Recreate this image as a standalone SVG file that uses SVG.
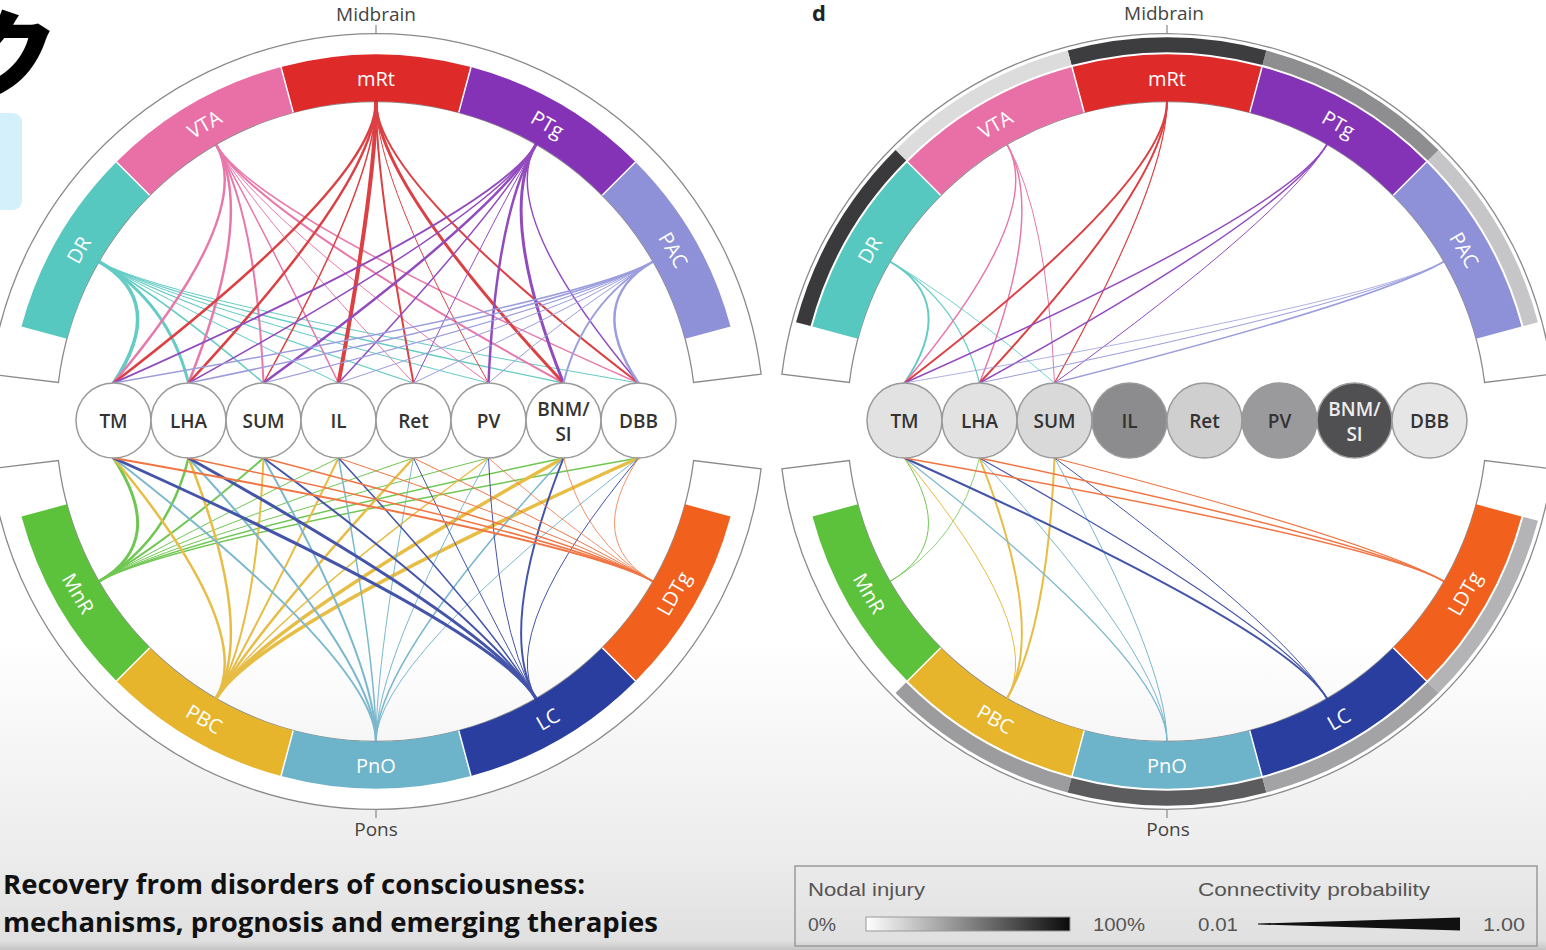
<svg xmlns="http://www.w3.org/2000/svg" width="1546" height="950" viewBox="0 0 1546 950">
<defs>
<linearGradient id="bg" gradientUnits="userSpaceOnUse" x1="0" y1="640" x2="0" y2="950">
<stop offset="0" stop-color="#ffffff"/><stop offset="0.7" stop-color="#ececec"/><stop offset="0.97" stop-color="#e0e0e0"/><stop offset="1" stop-color="#c4c4c4"/>
</linearGradient>
<linearGradient id="inj" x1="0" y1="0" x2="1" y2="0">
<stop offset="0" stop-color="#ffffff"/><stop offset="1" stop-color="#0a0a0a"/>
</linearGradient>
<style>
.frame{fill:#fff;stroke:#8a8a8a;stroke-width:1.3}
.band{fill:none;stroke-width:47}
.ring{fill:none;stroke-width:15}
.sep{stroke:#fff;stroke-width:1.5}
.blabel{font-family:"Open Sans","Liberation Sans",sans-serif;font-size:20px;fill:#fff;text-anchor:middle;dominant-baseline:central}
.nc{stroke:#9a9a9a;stroke-width:1.5}
.nt{font-family:"Open Sans","Liberation Sans",sans-serif;font-size:19px;font-weight:600;fill:#333;text-anchor:middle;dominant-baseline:central}
.reg{font-family:"Open Sans","Liberation Sans",sans-serif;font-size:19px;fill:#444;text-anchor:middle;dominant-baseline:central}
.tick{stroke:#888;stroke-width:1.2}
.ch path{fill:none;stroke-linecap:round}
.dr{stroke:#4fc5be}.vta{stroke:#e5669f}.mrt{stroke:#d8262a}.ptg{stroke:#8433b6}.pac{stroke:#8e90d8}
.mnr{stroke:#5cc03a}.pbc{stroke:#e4b42b}.pno{stroke:#6aafc7}.lc{stroke:#2b3d9e}.ldt{stroke:#f0622a}
.leg{font-family:"Liberation Sans",sans-serif;font-size:19px;fill:#555}
.title{font-family:"Open Sans","Liberation Sans",sans-serif;font-weight:bold;font-size:26px;fill:#111}
</style>
</defs>
<rect x="0" y="0" width="1546" height="950" fill="url(#bg)"/>

<!-- overlay fragments top-left -->
<rect x="-20" y="113" width="42" height="97" rx="9" fill="#d3f0fb"/>
<text x="-38" y="90" font-family="Noto Sans CJK JP, sans-serif" font-weight="900" font-size="96" fill="#000" stroke="#fff" stroke-width="7" paint-order="stroke">ク</text>

<!-- LEFT DIAGRAM -->
<g id="left-diagram">
<line class="tick" x1="376" y1="25" x2="376" y2="34"/>
<line class="tick" x1="376" y1="809" x2="376" y2="818"/>
<text class="reg" x="376" y="14">Midbrain</text>
<text class="reg" x="376" y="829">Pons</text>
<path class="frame" d="M761.1,374.2A388,388 0 0 0 -9.1,374.2L58.4,382.5A320,320 0 0 1 693.6,382.5Z"/>
<path class="frame" d="M761.1,468.8A388,388 0 0 1 -9.1,468.8L58.4,460.5A320,320 0 0 0 693.6,460.5Z"/>
<g id="L-bands">
<path class="band" stroke="#8e90d8" d="M707.8,332.6A343.5,343.5 0 0 0 618.9,178.6"/>
<path class="band" stroke="#8433b6" d="M618.9,178.6A343.5,343.5 0 0 0 464.9,89.7"/>
<path class="band" stroke="#df2a2a" d="M464.9,89.7A343.5,343.5 0 0 0 287.1,89.7"/>
<path class="band" stroke="#e970a6" d="M287.1,89.7A343.5,343.5 0 0 0 133.1,178.6"/>
<path class="band" stroke="#56c8c0" d="M133.1,178.6A343.5,343.5 0 0 0 44.2,332.6"/>
<path class="band" stroke="#5cc23c" d="M44.2,510.4A343.5,343.5 0 0 0 133.1,664.4"/>
<path class="band" stroke="#e6b52c" d="M133.1,664.4A343.5,343.5 0 0 0 287.1,753.3"/>
<path class="band" stroke="#6db3c9" d="M287.1,753.3A343.5,343.5 0 0 0 464.9,753.3"/>
<path class="band" stroke="#2a3e9f" d="M464.9,753.3A343.5,343.5 0 0 0 618.9,664.4"/>
<path class="band" stroke="#f2601e" d="M618.9,664.4A343.5,343.5 0 0 0 707.8,510.4"/>
<line class="sep" x1="602.3" y1="195.2" x2="635.5" y2="162"/>
<line class="sep" x1="458.8" y1="112.4" x2="471" y2="67"/>
<line class="sep" x1="293.2" y1="112.4" x2="281" y2="67"/>
<line class="sep" x1="149.7" y1="195.2" x2="116.5" y2="162"/>
<line class="sep" x1="149.7" y1="647.8" x2="116.5" y2="681"/>
<line class="sep" x1="293.2" y1="730.6" x2="281" y2="776"/>
<line class="sep" x1="458.8" y1="730.6" x2="471" y2="776"/>
<line class="sep" x1="602.3" y1="647.8" x2="635.5" y2="681"/>
<text class="blabel" transform="rotate(-60 78.5 249.8)" x="78.5" y="249.8">DR</text>
<text class="blabel" transform="rotate(-30 204.3 124)" x="204.3" y="124">VTA</text>
<text class="blabel" x="376" y="78">mRt</text>
<text class="blabel" transform="rotate(30 547.7 124)" x="547.7" y="124">PTg</text>
<text class="blabel" transform="rotate(60 673.5 249.8)" x="673.5" y="249.8">PAC</text>
<text class="blabel" transform="rotate(60 78.5 593.3)" x="78.5" y="593.3">MnR</text>
<text class="blabel" transform="rotate(30 204.3 719)" x="204.3" y="719">PBC</text>
<text class="blabel" x="376" y="765">PnO</text>
<text class="blabel" transform="rotate(-30 547.7 719)" x="547.7" y="719">LC</text>
<text class="blabel" transform="rotate(-60 673.5 593.3)" x="673.5" y="593.3">LDTg</text>
</g>
<g id="L-connectors" class="ch" opacity="0.88">
<g class="dr">
<path stroke-width="3.5" d="M98.9,261.5Q168.2,301.5 113.5,383"/>
<path stroke-width="3" d="M98.9,261.5Q168.2,301.5 188.5,383"/>
<path stroke-width="1.5" d="M98.9,261.5Q168.2,301.5 263.5,383"/>
<path stroke-width="1" d="M98.9,261.5Q168.2,301.5 338.5,383"/>
<path stroke-width="1.3" d="M98.9,261.5Q168.2,301.5 413.5,383"/>
<path stroke-width="1" d="M98.9,261.5Q168.2,301.5 488.5,383"/>
<path stroke-width="1.3" d="M98.9,261.5Q168.2,301.5 563.5,383"/>
<path stroke-width="1" d="M98.9,261.5Q168.2,301.5 638.5,383"/>
</g>
<g class="vta">
<path stroke-width="2.5" d="M216,144.4Q256,213.7 113.5,383"/>
<path stroke-width="2.5" d="M216,144.4Q256,213.7 188.5,383"/>
<path stroke-width="2" d="M216,144.4Q256,213.7 263.5,383"/>
<path stroke-width="1.5" d="M216,144.4Q256,213.7 338.5,383"/>
<path stroke-width="1" d="M216,144.4Q256,213.7 413.5,383"/>
<path stroke-width="1" d="M216,144.4Q256,213.7 488.5,383"/>
<path stroke-width="2" d="M216,144.4Q256,213.7 563.5,383"/>
<path stroke-width="1.5" d="M216,144.4Q256,213.7 638.5,383"/>
</g>
<g class="mrt">
<path stroke-width="2.5" d="M376,101.5Q376,181.5 113.5,383"/>
<path stroke-width="2.5" d="M376,101.5Q376,181.5 188.5,383"/>
<path stroke-width="1.5" d="M376,101.5Q376,181.5 263.5,383"/>
<path stroke-width="4" d="M376,101.5Q376,181.5 338.5,383"/>
<path stroke-width="2" d="M376,101.5Q376,181.5 413.5,383"/>
<path stroke-width="1" d="M376,101.5Q376,181.5 488.5,383"/>
<path stroke-width="3" d="M376,101.5Q376,181.5 563.5,383"/>
<path stroke-width="2" d="M376,101.5Q376,181.5 638.5,383"/>
</g>
<g class="ptg">
<path stroke-width="2" d="M536,144.4Q496,213.7 113.5,383"/>
<path stroke-width="1.5" d="M536,144.4Q496,213.7 188.5,383"/>
<path stroke-width="2.5" d="M536,144.4Q496,213.7 263.5,383"/>
<path stroke-width="1.5" d="M536,144.4Q496,213.7 338.5,383"/>
<path stroke-width="1" d="M536,144.4Q496,213.7 413.5,383"/>
<path stroke-width="2.5" d="M536,144.4Q496,213.7 488.5,383"/>
<path stroke-width="3" d="M536,144.4Q496,213.7 563.5,383"/>
<path stroke-width="1.5" d="M536,144.4Q496,213.7 638.5,383"/>
</g>
<g class="pac">
<path stroke-width="1.5" d="M653.1,261.5Q583.8,301.5 113.5,383"/>
<path stroke-width="1.5" d="M653.1,261.5Q583.8,301.5 188.5,383"/>
<path stroke-width="1.2" d="M653.1,261.5Q583.8,301.5 263.5,383"/>
<path stroke-width="1" d="M653.1,261.5Q583.8,301.5 338.5,383"/>
<path stroke-width="1" d="M653.1,261.5Q583.8,301.5 413.5,383"/>
<path stroke-width="1" d="M653.1,261.5Q583.8,301.5 488.5,383"/>
<path stroke-width="2" d="M653.1,261.5Q583.8,301.5 563.5,383"/>
<path stroke-width="2.5" d="M653.1,261.5Q583.8,301.5 638.5,383"/>
</g>
<g class="mnr">
<path stroke-width="3" d="M98.9,581.5Q168.2,541.5 113.5,458"/>
<path stroke-width="2.5" d="M98.9,581.5Q168.2,541.5 188.5,458"/>
<path stroke-width="2" d="M98.9,581.5Q168.2,541.5 263.5,458"/>
<path stroke-width="1" d="M98.9,581.5Q168.2,541.5 338.5,458"/>
<path stroke-width="1" d="M98.9,581.5Q168.2,541.5 413.5,458"/>
<path stroke-width="1" d="M98.9,581.5Q168.2,541.5 488.5,458"/>
<path stroke-width="1.5" d="M98.9,581.5Q168.2,541.5 563.5,458"/>
<path stroke-width="1.5" d="M98.9,581.5Q168.2,541.5 638.5,458"/>
</g>
<g class="pbc">
<path stroke-width="2.5" d="M216,698.6Q256,629.3 113.5,458"/>
<path stroke-width="2.5" d="M216,698.6Q256,629.3 188.5,458"/>
<path stroke-width="2" d="M216,698.6Q256,629.3 263.5,458"/>
<path stroke-width="2" d="M216,698.6Q256,629.3 338.5,458"/>
<path stroke-width="2.5" d="M216,698.6Q256,629.3 413.5,458"/>
<path stroke-width="1.5" d="M216,698.6Q256,629.3 488.5,458"/>
<path stroke-width="3.5" d="M216,698.6Q256,629.3 563.5,458"/>
<path stroke-width="3.5" d="M216,698.6Q256,629.3 638.5,458"/>
</g>
<g class="pno">
<path stroke-width="2" d="M376,741.5Q376,661.5 113.5,458"/>
<path stroke-width="2" d="M376,741.5Q376,661.5 188.5,458"/>
<path stroke-width="2" d="M376,741.5Q376,661.5 263.5,458"/>
<path stroke-width="1.5" d="M376,741.5Q376,661.5 338.5,458"/>
<path stroke-width="1" d="M376,741.5Q376,661.5 413.5,458"/>
<path stroke-width="1" d="M376,741.5Q376,661.5 488.5,458"/>
<path stroke-width="1.5" d="M376,741.5Q376,661.5 563.5,458"/>
<path stroke-width="1" d="M376,741.5Q376,661.5 638.5,458"/>
</g>
<g class="lc">
<path stroke-width="3" d="M536,698.6Q496,629.3 113.5,458"/>
<path stroke-width="3" d="M536,698.6Q496,629.3 188.5,458"/>
<path stroke-width="2" d="M536,698.6Q496,629.3 263.5,458"/>
<path stroke-width="1.5" d="M536,698.6Q496,629.3 338.5,458"/>
<path stroke-width="1" d="M536,698.6Q496,629.3 413.5,458"/>
<path stroke-width="1" d="M536,698.6Q496,629.3 488.5,458"/>
<path stroke-width="2" d="M536,698.6Q496,629.3 563.5,458"/>
<path stroke-width="1" d="M536,698.6Q496,629.3 638.5,458"/>
</g>
<g class="ldt">
<path stroke-width="2" d="M653.1,581.5Q583.8,541.5 113.5,458"/>
<path stroke-width="1.5" d="M653.1,581.5Q583.8,541.5 188.5,458"/>
<path stroke-width="1.5" d="M653.1,581.5Q583.8,541.5 263.5,458"/>
<path stroke-width="1" d="M653.1,581.5Q583.8,541.5 338.5,458"/>
<path stroke-width="1" d="M653.1,581.5Q583.8,541.5 413.5,458"/>
<path stroke-width="0.8" d="M653.1,581.5Q583.8,541.5 488.5,458"/>
<path stroke-width="0.8" d="M653.1,581.5Q583.8,541.5 563.5,458"/>
<path stroke-width="0.8" d="M653.1,581.5Q583.8,541.5 638.5,458"/>
</g>
</g>
<g id="L-TM"><circle class="nc" cx="113.5" cy="420.5" r="37.5" fill="#fff"/><text class="nt" x="113.5" y="421">TM</text></g>
<g id="L-LHA"><circle class="nc" cx="188.5" cy="420.5" r="37.5" fill="#fff"/><text class="nt" x="188.5" y="421">LHA</text></g>
<g id="L-SUM"><circle class="nc" cx="263.5" cy="420.5" r="37.5" fill="#fff"/><text class="nt" x="263.5" y="421">SUM</text></g>
<g id="L-IL"><circle class="nc" cx="338.5" cy="420.5" r="37.5" fill="#fff"/><text class="nt" x="338.5" y="421">IL</text></g>
<g id="L-Ret"><circle class="nc" cx="413.5" cy="420.5" r="37.5" fill="#fff"/><text class="nt" x="413.5" y="421">Ret</text></g>
<g id="L-PV"><circle class="nc" cx="488.5" cy="420.5" r="37.5" fill="#fff"/><text class="nt" x="488.5" y="421">PV</text></g>
<g id="L-BNMSI"><circle class="nc" cx="563.5" cy="420.5" r="37.5" fill="#fff"/><text class="nt" x="563.5" y="409">BNM/</text><text class="nt" x="563.5" y="434">SI</text></g>
<g id="L-DBB"><circle class="nc" cx="638.5" cy="420.5" r="37.5" fill="#fff"/><text class="nt" x="638.5" y="421">DBB</text></g>
</g>

<!-- RIGHT DIAGRAM -->
<text x="812" y="21" font-family="Open Sans, Liberation Sans, sans-serif" font-weight="bold" font-size="22" fill="#222">d</text>
<g id="right-diagram" transform="translate(791,0)">
<line class="tick" x1="376" y1="25" x2="376" y2="34"/>
<line class="tick" x1="376" y1="809" x2="376" y2="818"/>
<text class="reg" x="373" y="13">Midbrain</text>
<text class="reg" x="377" y="829">Pons</text>
<path class="frame" d="M761.1,374.2A388,388 0 0 0 -9.1,374.2L58.4,382.5A320,320 0 0 1 693.6,382.5Z"/>
<path class="frame" d="M761.1,468.8A388,388 0 0 1 -9.1,468.8L58.4,460.5A320,320 0 0 0 693.6,460.5Z"/>
<g id="R-rings">
<path class="ring" stroke="#c6c6c8" d="M739.7,324.1A376.5,376.5 0 0 0 642.2,155.3"/>
<path class="ring" stroke="#8e8e90" d="M642.2,155.3A376.5,376.5 0 0 0 473.4,57.8"/>
<path class="ring" stroke="#3d3d40" d="M473.4,57.8A376.5,376.5 0 0 0 278.6,57.8"/>
<path class="ring" stroke="#dcdcdc" d="M278.6,57.8A376.5,376.5 0 0 0 109.8,155.3"/>
<path class="ring" stroke="#3a3a3d" d="M109.8,155.3A376.5,376.5 0 0 0 12.3,324.1"/>
<path class="ring" stroke="#9c9c9e" d="M109.8,687.7A376.5,376.5 0 0 0 278.6,785.2"/>
<path class="ring" stroke="#5c5c5e" d="M278.6,785.2A376.5,376.5 0 0 0 473.4,785.2"/>
<path class="ring" stroke="#a3a3a5" d="M473.4,785.2A376.5,376.5 0 0 0 642.2,687.7"/>
<path class="ring" stroke="#b4b4b6" d="M642.2,687.7A376.5,376.5 0 0 0 739.7,518.9"/>
</g>
<g id="R-bands">
<path class="band" stroke="#8e90d8" d="M707.8,332.6A343.5,343.5 0 0 0 618.9,178.6"/>
<path class="band" stroke="#8433b6" d="M618.9,178.6A343.5,343.5 0 0 0 464.9,89.7"/>
<path class="band" stroke="#df2a2a" d="M464.9,89.7A343.5,343.5 0 0 0 287.1,89.7"/>
<path class="band" stroke="#e970a6" d="M287.1,89.7A343.5,343.5 0 0 0 133.1,178.6"/>
<path class="band" stroke="#56c8c0" d="M133.1,178.6A343.5,343.5 0 0 0 44.2,332.6"/>
<path class="band" stroke="#5cc23c" d="M44.2,510.4A343.5,343.5 0 0 0 133.1,664.4"/>
<path class="band" stroke="#e6b52c" d="M133.1,664.4A343.5,343.5 0 0 0 287.1,753.3"/>
<path class="band" stroke="#6db3c9" d="M287.1,753.3A343.5,343.5 0 0 0 464.9,753.3"/>
<path class="band" stroke="#2a3e9f" d="M464.9,753.3A343.5,343.5 0 0 0 618.9,664.4"/>
<path class="band" stroke="#f2601e" d="M618.9,664.4A343.5,343.5 0 0 0 707.8,510.4"/>
<line class="sep" x1="602.3" y1="195.2" x2="635.5" y2="162"/>
<line class="sep" x1="458.8" y1="112.4" x2="471" y2="67"/>
<line class="sep" x1="293.2" y1="112.4" x2="281" y2="67"/>
<line class="sep" x1="149.7" y1="195.2" x2="116.5" y2="162"/>
<line class="sep" x1="149.7" y1="647.8" x2="116.5" y2="681"/>
<line class="sep" x1="293.2" y1="730.6" x2="281" y2="776"/>
<line class="sep" x1="458.8" y1="730.6" x2="471" y2="776"/>
<line class="sep" x1="602.3" y1="647.8" x2="635.5" y2="681"/>
<text class="blabel" transform="rotate(-60 78.5 249.8)" x="78.5" y="249.8">DR</text>
<text class="blabel" transform="rotate(-30 204.3 124)" x="204.3" y="124">VTA</text>
<text class="blabel" x="376" y="78">mRt</text>
<text class="blabel" transform="rotate(30 547.7 124)" x="547.7" y="124">PTg</text>
<text class="blabel" transform="rotate(60 673.5 249.8)" x="673.5" y="249.8">PAC</text>
<text class="blabel" transform="rotate(60 78.5 593.3)" x="78.5" y="593.3">MnR</text>
<text class="blabel" transform="rotate(30 204.3 719)" x="204.3" y="719">PBC</text>
<text class="blabel" x="376" y="765">PnO</text>
<text class="blabel" transform="rotate(-30 547.7 719)" x="547.7" y="719">LC</text>
<text class="blabel" transform="rotate(-60 673.5 593.3)" x="673.5" y="593.3">LDTg</text>
</g>
<g id="R-connectors" class="ch" opacity="0.88">
<g class="dr">
<path stroke-width="2" d="M98.9,261.5Q168.2,301.5 113.5,383"/>
<path stroke-width="1.2" d="M98.9,261.5Q168.2,301.5 188.5,383"/>
<path stroke-width="0.9" d="M98.9,261.5Q168.2,301.5 263.5,383"/>
</g>
<g class="vta">
<path stroke-width="1.5" d="M216,144.4Q256,213.7 113.5,383"/>
<path stroke-width="1.5" d="M216,144.4Q256,213.7 188.5,383"/>
<path stroke-width="1" d="M216,144.4Q256,213.7 263.5,383"/>
</g>
<g class="mrt">
<path stroke-width="2" d="M376,101.5Q376,181.5 113.5,383"/>
<path stroke-width="2" d="M376,101.5Q376,181.5 188.5,383"/>
<path stroke-width="1.2" d="M376,101.5Q376,181.5 263.5,383"/>
</g>
<g class="ptg">
<path stroke-width="1.5" d="M536,144.4Q496,213.7 113.5,383"/>
<path stroke-width="1.5" d="M536,144.4Q496,213.7 188.5,383"/>
<path stroke-width="1" d="M536,144.4Q496,213.7 263.5,383"/>
</g>
<g class="pac">
<path stroke-width="0.8" d="M653.1,261.5Q583.8,301.5 113.5,383"/>
<path stroke-width="1" d="M653.1,261.5Q583.8,301.5 188.5,383"/>
<path stroke-width="1.5" d="M653.1,261.5Q583.8,301.5 263.5,383"/>
</g>
<g class="mnr">
<path stroke-width="1" d="M98.9,581.5Q168.2,541.5 113.5,458"/>
<path stroke-width="0.8" d="M98.9,581.5Q168.2,541.5 188.5,458"/>
</g>
<g class="pbc">
<path stroke-width="1" d="M216,698.6Q256,629.3 113.5,458"/>
<path stroke-width="2" d="M216,698.6Q256,629.3 188.5,458"/>
<path stroke-width="2" d="M216,698.6Q256,629.3 263.5,458"/>
</g>
<g class="pno">
<path stroke-width="1.2" d="M376,741.5Q376,661.5 113.5,458"/>
<path stroke-width="1" d="M376,741.5Q376,661.5 188.5,458"/>
<path stroke-width="1" d="M376,741.5Q376,661.5 263.5,458"/>
</g>
<g class="lc">
<path stroke-width="2" d="M536,698.6Q496,629.3 113.5,458"/>
<path stroke-width="1.2" d="M536,698.6Q496,629.3 188.5,458"/>
<path stroke-width="1" d="M536,698.6Q496,629.3 263.5,458"/>
</g>
<g class="ldt">
<path stroke-width="1.5" d="M653.1,581.5Q583.8,541.5 113.5,458"/>
<path stroke-width="1.5" d="M653.1,581.5Q583.8,541.5 188.5,458"/>
<path stroke-width="1.2" d="M653.1,581.5Q583.8,541.5 263.5,458"/>
</g>
</g>
<g id="R-TM"><circle class="nc" cx="113.5" cy="420.5" r="37.5" fill="#e2e2e2"/><text class="nt" x="113.5" y="421">TM</text></g>
<g id="R-LHA"><circle class="nc" cx="188.5" cy="420.5" r="37.5" fill="#e2e2e2"/><text class="nt" x="188.5" y="421">LHA</text></g>
<g id="R-SUM"><circle class="nc" cx="263.5" cy="420.5" r="37.5" fill="#d9d9d9"/><text class="nt" x="263.5" y="421">SUM</text></g>
<g id="R-IL"><circle class="nc" cx="338.5" cy="420.5" r="37.5" fill="#8c8c8e"/><text class="nt" x="338.5" y="421">IL</text></g>
<g id="R-Ret"><circle class="nc" cx="413.5" cy="420.5" r="37.5" fill="#cfcfd0"/><text class="nt" x="413.5" y="421">Ret</text></g>
<g id="R-PV"><circle class="nc" cx="488.5" cy="420.5" r="37.5" fill="#9a9a9c"/><text class="nt" x="488.5" y="421">PV</text></g>
<g id="R-BNMSI"><circle class="nc" cx="563.5" cy="420.5" r="37.5" fill="#505052"/><text class="nt" x="563.5" y="409" style="fill:#eee">BNM/</text><text class="nt" x="563.5" y="434" style="fill:#eee">SI</text></g>
<g id="R-DBB"><circle class="nc" cx="638.5" cy="420.5" r="37.5" fill="#e6e6e6"/><text class="nt" x="638.5" y="421">DBB</text></g>
</g>

<!-- title -->
<text class="title" x="3" y="894" textLength="582" lengthAdjust="spacingAndGlyphs">Recovery from disorders of consciousness:</text>
<text class="title" x="3" y="932" textLength="655" lengthAdjust="spacingAndGlyphs">mechanisms, prognosis and emerging therapies</text>

<!-- legend -->
<g id="legend">
<rect x="795" y="866" width="742" height="80" fill="none" stroke="#9a9a9a" stroke-width="1.5"/>
<text class="leg" x="808" y="896" textLength="117" lengthAdjust="spacingAndGlyphs">Nodal injury</text>
<text class="leg" x="808" y="931" textLength="28" lengthAdjust="spacingAndGlyphs">0%</text>
<rect x="866" y="917" width="204" height="14" fill="url(#inj)" stroke="#999" stroke-width="1"/>
<text class="leg" x="1093" y="931" textLength="52" lengthAdjust="spacingAndGlyphs">100%</text>
<text class="leg" x="1198" y="896" textLength="232" lengthAdjust="spacingAndGlyphs">Connectivity probability</text>
<text class="leg" x="1198" y="931" textLength="40" lengthAdjust="spacingAndGlyphs">0.01</text>
<polygon points="1258,923.5 1460,917.5 1460,930.5 1258,924.5" fill="#111"/>
<text class="leg" x="1483" y="931" textLength="42" lengthAdjust="spacingAndGlyphs">1.00</text>
</g>
</svg>
